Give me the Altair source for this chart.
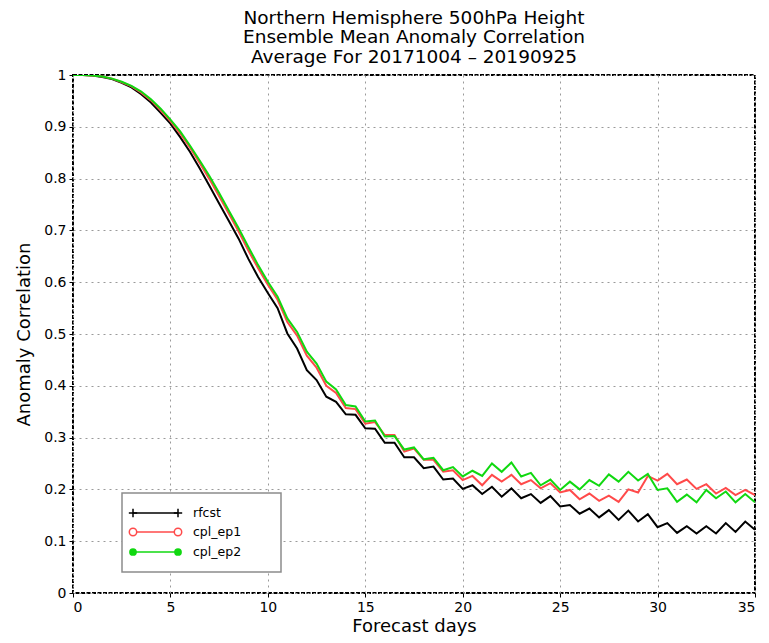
import altair as alt
import pandas as pd

days = [0.0, 0.5, 1.0, 1.5, 2.0, 2.5, 3.0, 3.5, 4.0, 4.5, 5.0, 5.5, 6.0, 6.5, 7.0, 7.5,
        8.0, 8.5, 9.0, 9.5, 10.0, 10.5, 11.0, 11.5, 12.0, 12.5, 13.0, 13.5, 14.0, 14.5,
        15.0, 15.5, 16.0, 16.5, 17.0, 17.5, 18.0, 18.5, 19.0, 19.5, 20.0, 20.5, 21.0,
        21.5, 22.0, 22.5, 23.0, 23.5, 24.0, 24.5, 25.0, 25.5, 26.0, 26.5, 27.0, 27.5,
        28.0, 28.5, 29.0, 29.5, 30.0, 30.5, 31.0, 31.5, 32.0, 32.5, 33.0, 33.5, 34.0,
        34.5, 35.0]

rfcst = [1.000, 1.000, 0.999, 0.996, 0.992, 0.985, 0.976, 0.963, 0.947, 0.927,
         0.906, 0.880, 0.852, 0.820, 0.786, 0.752, 0.718, 0.684, 0.645, 0.610,
         0.579, 0.550, 0.501, 0.472, 0.430, 0.411, 0.379, 0.369, 0.345, 0.344,
         0.318, 0.317, 0.290, 0.290, 0.262, 0.262, 0.241, 0.244, 0.219, 0.221,
         0.201, 0.208, 0.191, 0.205, 0.186, 0.202, 0.183, 0.191, 0.174, 0.187,
         0.167, 0.170, 0.153, 0.163, 0.146, 0.160, 0.141, 0.159, 0.138, 0.152,
         0.127, 0.135, 0.116, 0.129, 0.115, 0.129, 0.115, 0.135, 0.118, 0.138,
         0.122]

cpl_ep1 = [1.000, 1.000, 0.999, 0.997, 0.993, 0.986, 0.978, 0.966, 0.951, 0.932,
           0.911, 0.887, 0.860, 0.830, 0.799, 0.766, 0.732, 0.698, 0.661, 0.627,
           0.595, 0.566, 0.523, 0.497, 0.458, 0.435, 0.400, 0.386, 0.357, 0.355,
           0.327, 0.330, 0.305, 0.305, 0.273, 0.279, 0.257, 0.257, 0.234, 0.237,
           0.218, 0.226, 0.208, 0.228, 0.215, 0.228, 0.210, 0.218, 0.202, 0.212,
           0.194, 0.199, 0.181, 0.192, 0.178, 0.188, 0.176, 0.200, 0.194, 0.226,
           0.217, 0.230, 0.210, 0.219, 0.201, 0.210, 0.192, 0.203, 0.189, 0.199,
           0.189]

cpl_ep2 = [1.000, 1.000, 0.999, 0.997, 0.993, 0.987, 0.979, 0.968, 0.953, 0.935,
           0.914, 0.891, 0.864, 0.835, 0.805, 0.772, 0.738, 0.704, 0.668, 0.633,
           0.601, 0.572, 0.530, 0.504, 0.466, 0.443, 0.408, 0.393, 0.363, 0.360,
           0.331, 0.333, 0.302, 0.303, 0.277, 0.281, 0.258, 0.261, 0.237, 0.243,
           0.225, 0.236, 0.226, 0.250, 0.234, 0.252, 0.225, 0.232, 0.208, 0.219,
           0.199, 0.215, 0.200, 0.218, 0.207, 0.229, 0.215, 0.234, 0.217, 0.230,
           0.199, 0.202, 0.176, 0.190, 0.175, 0.199, 0.183, 0.196, 0.175, 0.191,
           0.175]

series_names = ["rfcst", "cpl_ep1", "cpl_ep2"]
series_colors = ["#000000", "#ff4a4a", "#10d810"]
x_ticks = [0, 5, 10, 15, 20, 25, 30, 35]
y_ticks = [0, 0.1, 0.2, 0.3, 0.4, 0.5, 0.6, 0.7, 0.8, 0.9, 1]
title_lines = ["Northern Hemisphere 500hPa Height",
               "Ensemble Mean Anomaly Correlation",
               "Average For 20171004 \u2013 20190925"]

FONT = "DejaVu Sans"
W, H = 682, 518

common_axis = dict(
    domain=False, grid=True, gridColor="#9a9a9a", gridDash=[2, 4], gridWidth=1,
    ticks=True, tickSize=4, tickColor="black", tickWidth=1,
    labelFont=FONT, labelFontSize=14, labelColor="black", labelPadding=3,
    titleFont=FONT, titleFontSize=18, titleFontWeight="normal", titleColor="black",
)

x_enc = alt.X("day:Q", scale=alt.Scale(domain=[0, 35], nice=False, zero=False),
              axis=alt.Axis(values=x_ticks, title="Forecast days", format="d",
                            titlePadding=3, **common_axis))
y_enc = alt.Y("value:Q", scale=alt.Scale(domain=[0, 1], nice=False),
              axis=alt.Axis(values=y_ticks, title="Anomaly Correlation", titlePadding=10,
                            labelExpr="datum.value == 0 ? '0' : datum.value == 1 ? '1' : format(datum.value, '.1f')",
                            **common_axis))

values = {"rfcst": rfcst, "cpl_ep1": cpl_ep1, "cpl_ep2": cpl_ep2}
layers = []
for i, (name, col) in enumerate(zip(series_names, series_colors)):
    df = pd.DataFrame({"day": days, "value": values[name], "series": name})
    if i == 0:
        enc = dict(x=x_enc, y=y_enc)
    else:
        enc = dict(x="day:Q", y="value:Q")
    layers.append(
        alt.Chart(df).mark_line(color=col, strokeWidth=2, clip=True).encode(**enc)
    )

# legend box (pixel positions inside the plot area)
one = pd.DataFrame({"a": [0]})
bx0, bx1, by0, by1 = 49, 208, 418, 497
layers.append(
    alt.Chart(one).mark_rect(fill="white", stroke="#8c8c8c", strokeWidth=1.5)
    .encode(x=alt.value(bx0), x2=alt.value(bx1), y=alt.value(by0), y2=alt.value(by1))
)
row_y = [438, 457, 477]
lx0, lx1, tx = 60, 105, 120
shapes = ["M0,-1L0,1M-1,0L1,0", "circle", "circle"]
filled = [False, False, True]
for name, col, yy, shp, fl in zip(series_names, series_colors, row_y, shapes, filled):
    layers.append(
        alt.Chart(one).mark_rule(color=col, strokeWidth=1.5)
        .encode(x=alt.value(lx0), x2=alt.value(lx1), y=alt.value(yy))
    )
    for px in (lx0, lx1):
        if fl:
            pt = alt.Chart(one).mark_point(shape=shp, filled=True, fill=col, color=col,
                                           size=60, opacity=1)
        elif shp == "circle":
            pt = alt.Chart(one).mark_point(shape=shp, filled=False, color=col, fill="white",
                                           fillOpacity=1, size=55, strokeWidth=1.5, opacity=1)
        else:
            pt = alt.Chart(one).mark_point(shape=shp, filled=False, color=col,
                                           size=70, strokeWidth=1.5, opacity=1)
        layers.append(pt.encode(x=alt.value(px), y=alt.value(yy)))
    layers.append(
        alt.Chart(pd.DataFrame({"label": [name]}))
        .mark_text(align="left", baseline="middle", font=FONT, fontSize=12.5, color="black")
        .encode(x=alt.value(tx), y=alt.value(yy), text="label:N")
    )

chart = alt.layer(*layers).properties(
    width=W, height=H,
    title=alt.TitleParams(text=title_lines, font=FONT, fontSize=18.5, fontWeight="normal",
                          lineHeight=19.5, color="black", anchor="middle", offset=2),
    autosize=alt.AutoSizeParams(type="none"),
    padding={"left": 65, "top": 67, "right": 6, "bottom": 47},
    background="white",
).configure_view(
    stroke="black", strokeWidth=2, strokeDash=[4, 1.5]
)

chart.save("out.html", embed_options={"renderer": "svg", "actions": False})
